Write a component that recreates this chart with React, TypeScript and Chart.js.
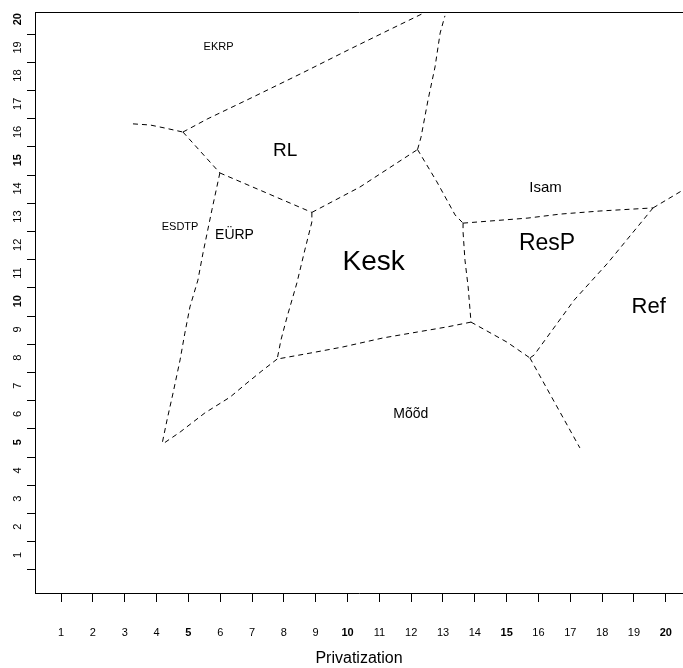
import React, { useEffect, useRef } from "react";
import { Chart, registerables } from "chart.js";

Chart.register(...registerables);

// ---- axis tick labels ----
const xTickLabels = [1, 2, 3, 4, 5, 6, 7, 8, 9, 10, 11, 12, 13, 14, 15, 16, 17, 18, 19, 20];
const yTickLabels = [1, 2, 3, 4, 5, 6, 7, 8, 9, 10, 11, 12, 13, 14, 15, 16, 17, 18, 19, 20];
const yTickMarkShift = 0.53; // tick marks sit this far below their labels
const xTitle = "Privatization";

// ---- party labels ----
const partyNames = ["EKRP", "RL", "ESDTP", "EÜRP", "Kesk", "Isam", "ResP", "Ref", "Mõõd"];
const partyX = [5.95, 8.04, 4.74, 6.45, 10.82, 16.22, 16.27, 19.46, 11.99];
const partyY = [19.0, 15.35, 12.65, 12.33, 11.37, 14.02, 12.03, 9.81, 6.0];

// ---- boundary lines ----
const edgeStub: [number, number][] = [[3.26, 16.29], [3.8, 16.25], [4.27, 16.14], [4.83, 16.0]];
const edgeEkrpRl: [number, number][] = [[4.83, 16.0], [5.59, 16.46], [7.03, 17.24], [8.57, 18.09], [10.02, 18.91], [11.43, 19.69], [12.45, 20.25]];
const edgeRlEsdtp: [number, number][] = [[4.83, 16.0], [5.99, 14.55]];
const edgeRlEurp: [number, number][] = [[5.99, 14.55], [8.88, 13.15]];
const edgeRlKesk: [number, number][] = [[8.88, 13.15], [10.39, 14.05], [12.2, 15.38]];
const edgeRlIsam: [number, number][] = [[12.2, 15.38], [12.31, 15.82], [12.53, 17.14], [12.75, 18.31], [12.91, 19.51], [13.06, 20.12]];
const edgeKeskIsam: [number, number][] = [[12.2, 15.38], [12.81, 14.23], [13.38, 13.06], [13.63, 12.77]];
const edgeIsamResp: [number, number][] = [[13.63, 12.77], [15.67, 12.95], [16.68, 13.09], [17.93, 13.2], [19.6, 13.31]];
const edgeIsamRef: [number, number][] = [[19.6, 13.31], [20.76, 14.09]];
const edgeRespRef: [number, number][] = [[19.6, 13.31], [18.18, 11.36], [17.12, 10.04], [15.86, 8.09], [15.73, 7.99]];
const edgeKeskResp: [number, number][] = [[13.63, 12.77], [13.63, 12.46], [13.69, 11.46], [13.79, 10.51], [13.88, 9.26]];
const edgeRespMood: [number, number][] = [[13.88, 9.26], [15.01, 8.55], [15.73, 7.99]];
const edgeRefMood: [number, number][] = [[15.73, 7.99], [17.3, 4.8]];
const edgeKeskMood: [number, number][] = [[13.88, 9.26], [13.13, 9.09], [12.2, 8.91], [11.12, 8.7], [9.86, 8.38], [8.82, 8.16], [7.79, 7.95]];
const edgeEurpKesk: [number, number][] = [[8.88, 13.15], [8.88, 12.81], [8.66, 11.82], [8.41, 10.65], [8.1, 9.44], [7.91, 8.63], [7.79, 7.95]];
const edgeEurpMood: [number, number][] = [[7.79, 7.95], [7.31, 7.53], [6.84, 7.1], [6.31, 6.6], [5.52, 6.04], [4.74, 5.36], [4.17, 4.92]];
const edgeEsdtpEurp: [number, number][] = [[5.99, 14.55], [5.74, 13.24], [5.59, 12.42], [5.46, 11.71], [5.3, 10.75], [5.05, 9.8], [4.89, 8.87], [4.74, 7.92], [4.52, 6.75], [4.33, 5.79], [4.17, 4.92]];

const edges = [
  edgeStub, edgeEkrpRl, edgeRlEsdtp, edgeRlEurp, edgeRlKesk, edgeRlIsam, edgeKeskIsam,
  edgeIsamResp, edgeIsamRef, edgeRespRef, edgeKeskResp, edgeRespMood, edgeRefMood,
  edgeKeskMood, edgeEurpKesk, edgeEurpMood, edgeEsdtpEurp,
];

// ---- styles ----
const FONT = '"Liberation Sans", Arial, Helvetica, sans-serif';
const partyFontSizes = [11, 19, 11, 14, 28, 15, 23, 22, 14];

const partyLabelPlugin = {
  id: "partyLabels",
  afterDatasetsDraw(chart: any) {
    const { ctx, scales } = chart;
    ctx.save();
    ctx.fillStyle = "#000";
    ctx.textAlign = "center";
    ctx.textBaseline = "middle";
    partyNames.forEach((name, i) => {
      const px = scales.x.getPixelForValue(partyX[i]);
      const py = scales.y.getPixelForValue(partyY[i]);
      ctx.font = `${partyFontSizes[i]}px ${FONT}`;
      ctx.fillText(name, px, py);
    });
    ctx.restore();
  },
};

const zeroHorizontalPadding = (scale: any) => {
  scale.paddingLeft = 0;
  scale.paddingRight = 0;
};

export default function App() {
  const canvasRef = useRef<HTMLCanvasElement | null>(null);

  useEffect(() => {
    document.body.style.margin = "0";
    const canvas = canvasRef.current;
    if (!canvas) return;

    const chart = new Chart(canvas, {
      type: "scatter",
      data: {
        datasets: edges.map((e) => ({
          data: e.map(([x, y]) => ({ x, y })),
          showLine: true,
          borderColor: "#000",
          borderWidth: 1,
          borderDash: [5, 4],
          pointRadius: 0,
          pointHoverRadius: 0,
          fill: false,
          tension: 0,
          xAxisID: "x",
          yAxisID: "y",
        })),
      },
      options: {
        animation: false,
        responsive: false,
        events: [],
        layout: { padding: { top: 12, left: 0, right: 0, bottom: 0 } },
        plugins: {
          legend: { display: false },
          tooltip: { enabled: false },
          title: { display: false },
        },
        scales: {
          x: {
            type: "linear",
            position: "bottom",
            min: 0.182,
            max: 20.54,
            afterBuildTicks: (scale: any) => {
              scale.ticks = xTickLabels.map((v) => ({ value: v }));
            },
            afterFit: (scale: any) => {
              scale.height = 75;
              zeroHorizontalPadding(scale);
            },
            ticks: {
              autoSkip: false,
              maxRotation: 0,
              minRotation: 0,
              padding: 24,
              color: "#000",
              callback: (v: any) => String(v),
              font: (c: any) => ({
                family: FONT,
                size: 11,
                weight: c.tick && c.tick.value % 5 === 0 ? "bold" : "normal",
              }),
            },
            grid: {
              drawOnChartArea: false,
              drawTicks: true,
              tickLength: 9,
              color: "#000",
              lineWidth: 1,
            },
            border: { display: true, color: "#000", width: 1 },
            title: {
              display: true,
              text: xTitle,
              color: "#000",
              font: { family: FONT, size: 16 },
              padding: { top: 0, bottom: 0 },
            },
          },
          xTop: {
            type: "linear",
            position: "top",
            min: 0.182,
            max: 20.54,
            afterBuildTicks: (scale: any) => {
              scale.ticks = [];
            },
            afterFit: (scale: any) => {
              scale.height = 0;
              zeroHorizontalPadding(scale);
            },
            ticks: { display: false },
            grid: { drawOnChartArea: false, drawTicks: false, color: "#000" },
            border: { display: true, color: "#000", width: 1 },
          },
          y: {
            type: "linear",
            position: "left",
            min: -0.346,
            max: 20.257,
            afterBuildTicks: (scale: any) => {
              scale.ticks = yTickLabels.map((v) => ({ value: v - yTickMarkShift }));
            },
            afterFit: (scale: any) => {
              scale.width = 35;
              scale.paddingTop = 0;
              scale.paddingBottom = 0;
            },
            ticks: {
              autoSkip: false,
              minRotation: 90,
              maxRotation: 90,
              crossAlign: "center",
              padding: 3,
              labelOffset: -15,
              color: "#000",
              callback: (_v: any, i: number) => String(yTickLabels[i]),
              font: (c: any) => ({
                family: FONT,
                size: 11,
                weight: yTickLabels[c.index] % 5 === 0 ? "bold" : "normal",
              }),
            },
            grid: {
              drawOnChartArea: false,
              drawTicks: true,
              tickLength: 8,
              color: "#000",
              lineWidth: 1,
            },
            border: { display: true, color: "#000", width: 1 },
          },
        },
      } as any,
      plugins: [partyLabelPlugin],
    });

    return () => {
      chart.destroy();
    };
  }, []);

  return (
    <div style={{ width: 683, height: 668, background: "#fff" }}>
      <canvas ref={canvasRef} width={683} height={668} style={{ display: "block" }} />
    </div>
  );
}
